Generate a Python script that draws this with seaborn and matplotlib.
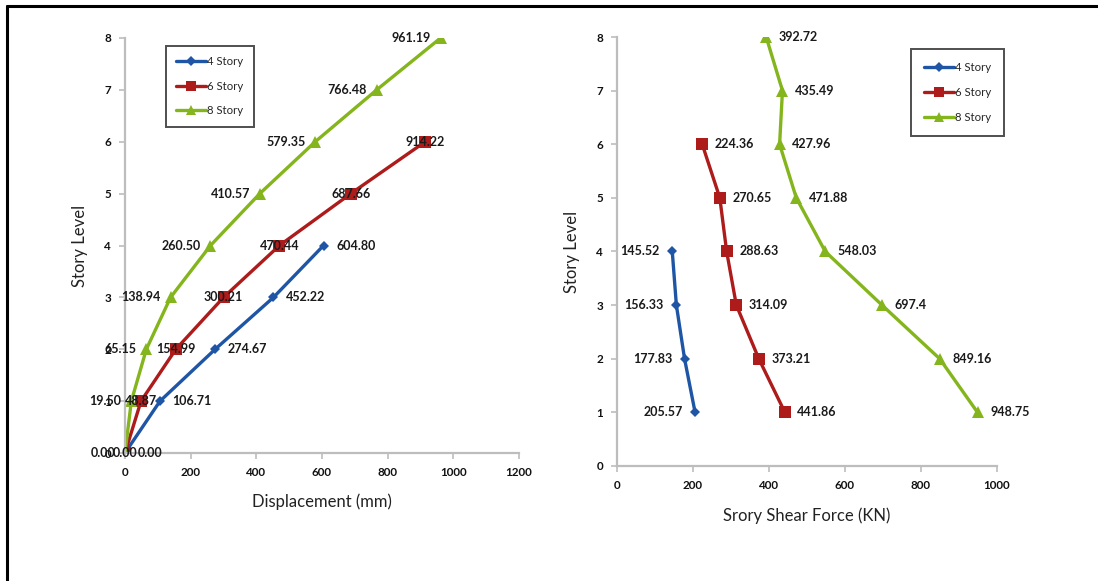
import matplotlib
matplotlib.use("Agg")
import matplotlib.pyplot as plt
from matplotlib.lines import Line2D
import seaborn as sns
import pandas as pd

sns.set_theme(style="white")
plt.rcParams["font.family"] = ["Lato", "DejaVu Sans"]

# Story displacement (mm), levels 0 .. n
disp_levels_4 = [0, 1, 2, 3, 4]
disp_4 = [0.00, 106.71, 274.67, 452.22, 604.80]
disp_levels_6 = [0, 1, 2, 3, 4, 5, 6]
disp_6 = [0.00, 48.87, 154.99, 300.21, 470.44, 687.66, 914.22]
disp_levels_8 = [0, 1, 2, 3, 4, 5, 6, 7, 8]
disp_8 = [0.00, 19.50, 65.15, 138.94, 260.50, 410.57, 579.35, 766.48, 961.19]

# Story shear force (KN), levels 1 .. n
shear_levels_4 = [1, 2, 3, 4]
shear_4 = [205.57, 177.83, 156.33, 145.52]
shear_levels_6 = [1, 2, 3, 4, 5, 6]
shear_6 = [441.86, 373.21, 314.09, 288.63, 270.65, 224.36]
shear_levels_8 = [1, 2, 3, 4, 5, 6, 7, 8]
shear_8 = [948.75, 849.16, 697.4, 548.03, 471.88, 427.96, 435.49, 392.72]

series_names = ["4 Story", "6 Story", "8 Story"]
colors = {"4 Story": "#1f55a5", "6 Story": "#ad1b1b", "8 Story": "#84b51c"}
markers = {"4 Story": "D", "6 Story": "s", "8 Story": "^"}
msizes = {"4 Story": 5.5, "6 Story": 8.5, "8 Story": 8.5}

fig = plt.figure(figsize=(10.98, 5.81), dpi=100)
ax1 = fig.add_axes([0.1138, 0.2203, 0.3589, 0.7143])
ax2 = fig.add_axes([0.5619, 0.1980, 0.3461, 0.7383])

# frame lines along the top and left of the figure
fig.add_artist(Line2D([0.0064, 1.0], [0.990, 0.990], color="black", lw=2.2,
                      transform=fig.transFigure))
fig.add_artist(Line2D([0.0064, 0.0064], [0.0, 0.990], color="black", lw=2.2,
                      transform=fig.transFigure))

label_kw = dict(fontsize=9.0, fontweight="bold", color="#1a1a1a", va="center")


def draw(ax, name, xs, ys):
    df = pd.DataFrame({"value": xs, "level": ys})
    sns.lineplot(data=df, x="value", y="level", ax=ax, sort=False,
                 orient="y", estimator=None, color=colors[name],
                 marker=markers[name], markersize=msizes[name],
                 markeredgewidth=0, linewidth=2.4, label=name)


# Displacement panel
disp_data = {"4 Story": (disp_4, disp_levels_4),
             "6 Story": (disp_6, disp_levels_6),
             "8 Story": (disp_8, disp_levels_8)}
for name in series_names:
    xs, ys = disp_data[name]
    draw(ax1, name, xs, ys)
    for x, y in zip(xs, ys):
        txt = f"{x:.2f}"
        if name == "4 Story":
            ax1.annotate(txt, (x, y), xytext=(9, 0), textcoords="offset points",
                         ha="left", **label_kw)
        elif name == "6 Story":
            ax1.annotate(txt, (x, y), xytext=(0, 0), textcoords="offset points",
                         ha="center", **label_kw)
        else:
            ax1.annotate(txt, (x, y), xytext=(-7, 0), textcoords="offset points",
                         ha="right", **label_kw)

ax1.set_xlim(0, 1200)
ax1.set_ylim(0, 8)
ax1.set_xticks(range(0, 1201, 200))
ax1.set_yticks(range(0, 9))
ax1.set_xlabel("Displacement (mm)", fontsize=12, color="#222222", labelpad=11)
ax1.set_ylabel("Story Level", fontsize=12, color="#222222", labelpad=12)

# Shear force panel
shear_data = {"4 Story": (shear_4, shear_levels_4),
              "6 Story": (shear_6, shear_levels_6),
              "8 Story": (shear_8, shear_levels_8)}
for name in series_names:
    xs, ys = shear_data[name]
    draw(ax2, name, xs, ys)
    for x, y in zip(xs, ys):
        txt = f"{x:g}"
        if name == "4 Story":
            ax2.annotate(txt, (x, y), xytext=(-9, 0), textcoords="offset points",
                         ha="right", **label_kw)
        else:
            ax2.annotate(txt, (x, y), xytext=(9, 0), textcoords="offset points",
                         ha="left", **label_kw)

ax2.set_xlim(0, 1000)
ax2.set_ylim(0, 8)
ax2.set_xticks(range(0, 1001, 200))
ax2.set_yticks(range(0, 9))
ax2.set_xlabel("Srory Shear Force (KN)", fontsize=12, color="#222222", labelpad=12)
ax2.set_ylabel("Story Level", fontsize=12, color="#222222", labelpad=12)

for ax in (ax1, ax2):
    for side in ("top", "right"):
        ax.spines[side].set_visible(False)
    for side in ("left", "bottom"):
        ax.spines[side].set_color("#bdbdbd")
        ax.spines[side].set_linewidth(1.6)
    ax.tick_params(axis="both", which="major", direction="out", length=4,
                   width=1.2, color="#bdbdbd", labelsize=8.4, labelcolor="#111111",
                   pad=6, bottom=True, left=True)
    for lbl in ax.get_xticklabels() + ax.get_yticklabels():
        lbl.set_fontweight("bold")
    ax.grid(False)

leg1 = ax1.legend(loc="upper left", bbox_to_anchor=(0.09, 0.995), fontsize=8.2,
                  frameon=True, fancybox=False, edgecolor="#222222",
                  borderpad=0.9, labelspacing=1.2, handlelength=2.6,
                  handletextpad=0.1)
leg2 = ax2.legend(loc="upper left", bbox_to_anchor=(0.76, 0.985), fontsize=8.2,
                  frameon=True, fancybox=False, edgecolor="#222222",
                  borderpad=1.1, labelspacing=1.25, handlelength=2.6,
                  handletextpad=0.1)
for leg in (leg1, leg2):
    leg.get_frame().set_linewidth(1.4)
    for h in leg.legend_handles:
        h.set_markersize(h.get_markersize() * 0.85)

fig.savefig("out.png", dpi=100, facecolor="white")
